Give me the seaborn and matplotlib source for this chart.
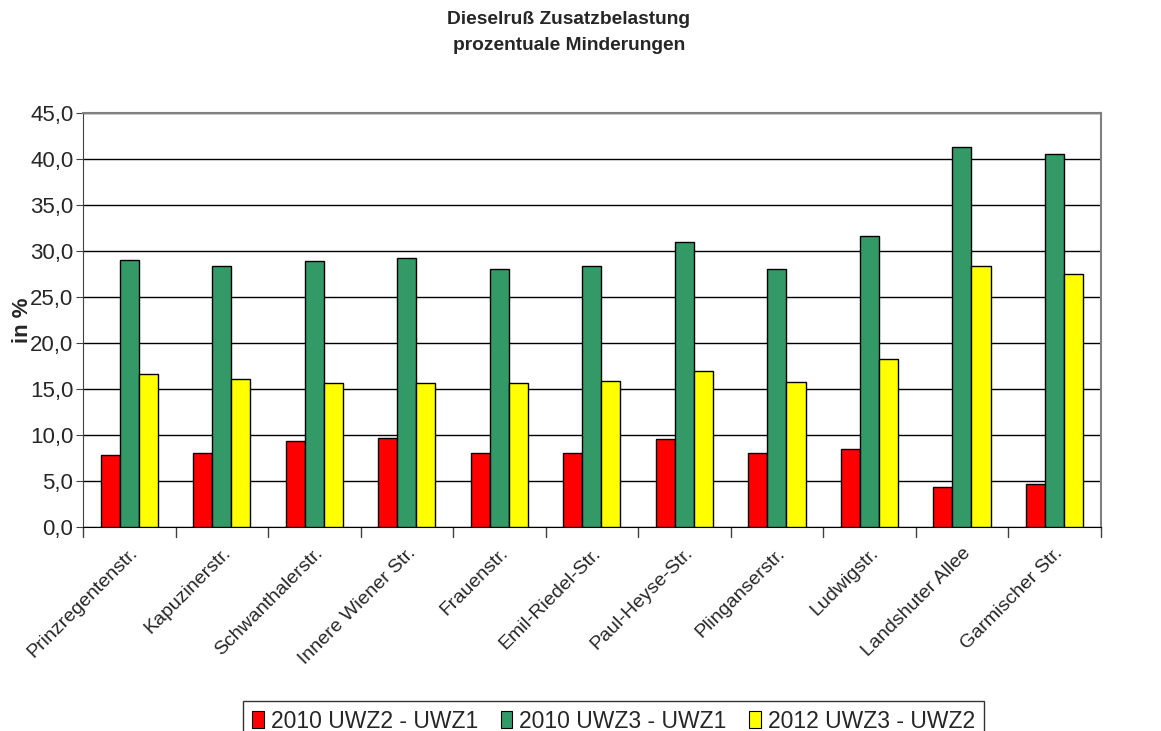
import numpy as np
import pandas as pd
import seaborn as sns
import matplotlib.pyplot as plt
from matplotlib.ticker import FuncFormatter, MultipleLocator

# ==============================================================================
# DATA
# ==============================================================================
streets = ["Prinzregentenstr.", "Kapuzinerstr.", "Schwanthalerstr.", "Innere Wiener Str.",
           "Frauenstr.", "Emil-Riedel-Str.", "Paul-Heyse-Str.", "Plinganserstr.",
           "Ludwigstr.", "Landshuter Allee", "Garmischer Str."]
series = ["2010 UWZ2 - UWZ1", "2010 UWZ3 - UWZ1", "2012 UWZ3 - UWZ2"]
uwz2_uwz1_2010 = [7.8, 8.0, 9.4, 9.7, 8.1, 8.0, 9.6, 8.1, 8.5, 4.4, 4.7]
uwz3_uwz1_2010 = [29.0, 28.4, 28.9, 29.2, 28.1, 28.4, 31.0, 28.1, 31.6, 41.3, 40.5]
uwz3_uwz2_2012 = [16.6, 16.1, 15.7, 15.7, 15.7, 15.9, 17.0, 15.8, 18.3, 28.4, 27.5]
colors = ["#FF0000", "#339966", "#FFFF00"]

df = pd.DataFrame({
    "street": streets * 3,
    "series": np.repeat(series, len(streets)),
    "value": uwz2_uwz1_2010 + uwz3_uwz1_2010 + uwz3_uwz2_2012,
})

# ==============================================================================
# PLOT
# ==============================================================================
sns.set_style("white")
plt.rcParams['font.family'] = ['Liberation Sans', 'DejaVu Sans']

fig = plt.figure(figsize=(11.61, 7.31), dpi=100)
ax = fig.add_axes([0.0715, 0.279, 0.8765, 0.5664])

sns.barplot(data=df, x="street", y="value", hue="series", palette=colors,
            width=0.62, gap=0, edgecolor="black", linewidth=1.0, ax=ax,
            legend=False, errorbar=None, saturation=1, zorder=3)

ax.set_ylim(0, 45)
ax.set_xlim(-0.5, len(streets) - 0.5)
ax.yaxis.set_major_locator(MultipleLocator(5))
ax.yaxis.set_major_formatter(FuncFormatter(lambda v, p: f"{v:.1f}".replace(".", ",")))
ax.grid(axis="y", color="black", linewidth=1.0, zorder=0)
ax.set_axisbelow(True)

for side in ["top", "right"]:
    ax.spines[side].set_color("#808080")
    ax.spines[side].set_linewidth(1.5)
ax.spines["left"].set_color("#404040")
ax.spines["bottom"].set_color("black")

ax.tick_params(axis="y", labelsize=16, left=True, length=5, pad=2, color="#404040")
ax.set_xticks(np.arange(len(streets)))
ax.set_xticklabels(streets, rotation=45, ha="right", rotation_mode="anchor", fontsize=14)
ax.tick_params(axis="x", bottom=False, pad=9)
# tick marks between categories
for b in np.arange(-0.5, len(streets) + 0.5, 1):
    ax.plot([b, b], [0, -0.025], transform=ax.get_xaxis_transform(),
            color="#404040", linewidth=1.0, clip_on=False)

ax.set_xlabel("")
ax.set_ylabel("in %", fontsize=16, fontweight="bold")
ax.yaxis.set_label_coords(-0.049, 0.5)

fig.text(0.49, 0.985, "Dieselruß Zusatzbelastung\nprozentuale Minderungen",
         ha="center", va="top", fontsize=13.8, fontweight="bold", linespacing=1.7)

handles = [plt.Rectangle((0, 0), 1, 1, facecolor=c, edgecolor="black", linewidth=0.8)
           for c in colors]
leg = fig.legend(handles, series, loc="lower center", bbox_to_anchor=(0.5285, -0.015),
                 ncol=3, fontsize=16.5, frameon=True, fancybox=False,
                 handlelength=0.5, handleheight=0.75, handletextpad=0.3,
                 columnspacing=1.0, borderpad=0.4, borderaxespad=0)
leg.get_frame().set_edgecolor("black")
leg.get_frame().set_linewidth(1.0)

fig.savefig("out.png", dpi=100)
